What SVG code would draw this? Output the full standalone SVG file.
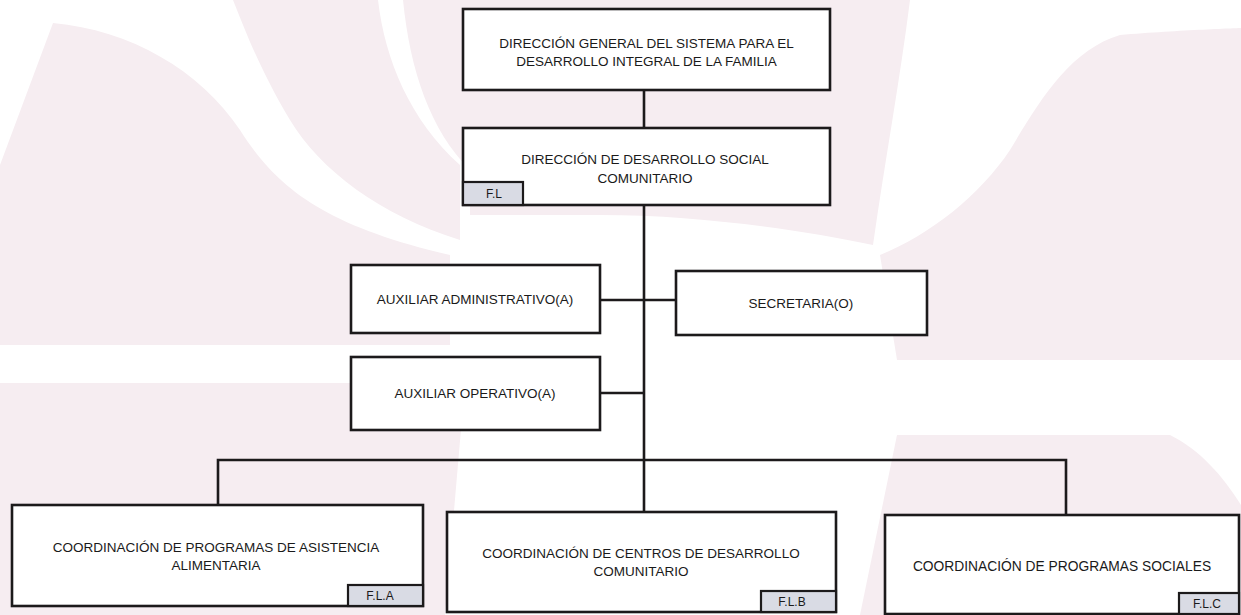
<svg xmlns="http://www.w3.org/2000/svg" width="1241" height="615" viewBox="0 0 1241 615">
  <style>
    .box { fill: #ffffff; stroke: #1c1a1b; stroke-width: 2.6; }
    .tag { fill: #d9dbe4; stroke: #1c1a1b; stroke-width: 2.2; }
    .lbl { font-family: "Liberation Sans", Arial, sans-serif; font-size: 13.5px; fill: #1a1a1a; text-anchor: middle; }
    .tagt { font-family: "Liberation Sans", Arial, sans-serif; font-size: 12px; fill: #1a1a1a; text-anchor: middle; }
    .wm { fill: #f6edf1; }
    .conn { fill: none; stroke: #1c1a1b; stroke-width: 2.6; }
  </style>
  <rect x="0" y="0" width="1241" height="615" fill="#ffffff"/>
  <g id="watermark">
    <path class="wm" d="M53,23 C130,30 200,70 240,130 C275,185 320,225 450,255 L450,345 L0,345 L0,165 Z"/>
    <path class="wm" d="M233,0 L378,0 C385,60 410,120 460,165 L460,240 C380,215 320,170 290,120 C260,70 245,30 233,0 Z"/>
    <path class="wm" d="M403,0 L910,0 C900,80 885,160 873,245 C800,230 700,215 600,215 L470,215 L470,170 C430,130 410,70 403,0 Z"/>
    <path class="wm" d="M1120,35 C1180,30 1241,28 1241,28 L1241,360 L897,360 L880,255 C930,235 980,195 1010,150 C1040,100 1070,50 1120,35 Z"/>
    <path class="wm" d="M0,383 L465,383 L445,615 L0,615 Z"/>
    <path class="wm" d="M897,435 L1170,435 C1200,450 1222,475 1241,505 L1241,615 L860,615 Z"/>
  </g>
  <g id="connectors">
    <line class="conn" x1="644" y1="90" x2="644" y2="128"/>
    <line class="conn" x1="644" y1="205" x2="644" y2="512"/>
    <line class="conn" x1="600" y1="300" x2="676" y2="300"/>
    <line class="conn" x1="600" y1="393" x2="644" y2="393"/>
    <polyline class="conn" points="218,505 218,460 1066,460 1066,515"/>
  </g>
  <g id="n-direccion-general">
    <rect class="box" x="463" y="9" width="367" height="81"/>
    <text class="lbl" x="646.5" y="48">DIRECCIÓN GENERAL DEL SISTEMA PARA EL</text>
    <text class="lbl" x="646.5" y="66">DESARROLLO INTEGRAL DE LA FAMILIA</text>
  </g>
  <g id="n-direccion-desarrollo">
    <rect class="box" x="463" y="128" width="367" height="77"/>
    <text class="lbl" x="645" y="164">DIRECCIÓN DE DESARROLLO SOCIAL</text>
    <text class="lbl" x="645" y="183">COMUNITARIO</text>
    <rect class="tag" x="463" y="182" width="60" height="23"/>
    <text class="tagt" x="494" y="198">F.L</text>
  </g>
  <g id="n-aux-admin">
    <rect class="box" x="351" y="265" width="249" height="68"/>
    <text class="lbl" x="475" y="304">AUXILIAR ADMINISTRATIVO(A)</text>
  </g>
  <g id="n-secretaria">
    <rect class="box" x="676" y="271" width="251" height="64"/>
    <text class="lbl" x="801" y="308">SECRETARIA(O)</text>
  </g>
  <g id="n-aux-operativo">
    <rect class="box" x="351" y="357" width="249" height="73"/>
    <text class="lbl" x="475" y="398">AUXILIAR OPERATIVO(A)</text>
  </g>
  <g id="n-coord-asistencia">
    <rect class="box" x="12" y="505" width="411" height="101"/>
    <text class="lbl" x="216" y="552">COORDINACIÓN DE PROGRAMAS DE ASISTENCIA</text>
    <text class="lbl" x="216" y="570">ALIMENTARIA</text>
    <rect class="tag" x="348" y="585" width="75" height="21"/>
    <text class="tagt" x="380" y="600">F.L.A</text>
  </g>
  <g id="n-coord-centros">
    <rect class="box" x="447" y="512" width="389" height="100"/>
    <text class="lbl" x="641" y="558">COORDINACIÓN DE CENTROS DE DESARROLLO</text>
    <text class="lbl" x="641" y="576">COMUNITARIO</text>
    <rect class="tag" x="761" y="591" width="75" height="21"/>
    <text class="tagt" x="792" y="606">F.L.B</text>
  </g>
  <g id="n-coord-sociales">
    <rect class="box" x="885" y="515" width="354" height="99"/>
    <text class="lbl" x="1062" y="571" style="font-size:13.8px">COORDINACIÓN DE PROGRAMAS SOCIALES</text>
    <rect class="tag" x="1179" y="593" width="60" height="21"/>
    <text class="tagt" x="1207" y="608">F.L.C</text>
  </g>
</svg>
